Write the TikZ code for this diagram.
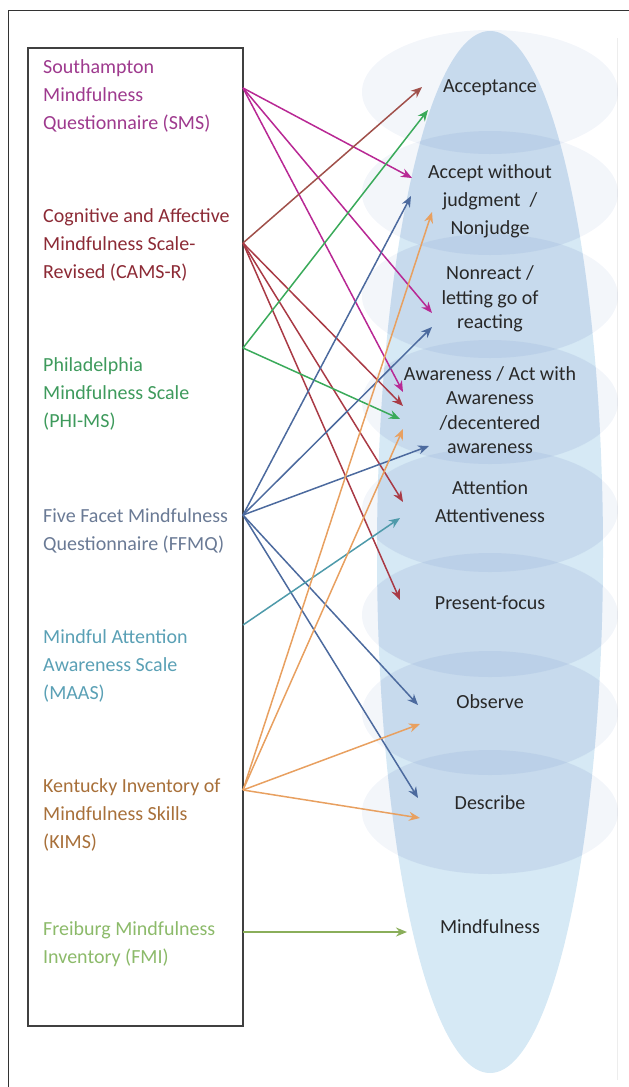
\documentclass[tikz,border=0pt]{standalone}
\usepackage{fontspec}
\setmainfont{Carlito}
\usetikzlibrary{arrows.meta}

\definecolor{smscol}{RGB}{158,58,142}
\definecolor{smsarr}{RGB}{184,40,148}
\definecolor{camscol}{RGB}{140,42,53}
\definecolor{camsarr}{RGB}{169,58,69}
\definecolor{camsup}{RGB}{160,80,74}
\definecolor{phicol}{RGB}{62,154,92}
\definecolor{phiarr}{RGB}{58,170,90}
\definecolor{ffmqcol}{RGB}{106,122,149}
\definecolor{ffmqarr}{RGB}{76,106,158}
\definecolor{maascol}{RGB}{90,160,181}
\definecolor{maasarr}{RGB}{78,154,170}
\definecolor{kimscol}{RGB}{168,112,58}
\definecolor{kimsarr}{RGB}{232,160,96}
\definecolor{fmicol}{RGB}{140,186,106}
\definecolor{fmiarr}{RGB}{138,174,90}
\definecolor{conefill}{RGB}{214,233,245}
\definecolor{bandfill}{RGB}{160,182,220}
\definecolor{facettext}{RGB}{40,40,40}

\begin{document}
\begin{tikzpicture}[x=1pt,y=-1pt,
  scale label/.style={anchor=west, align=left, inner sep=0pt,
    font=\fontsize{20}{28}\selectfont},
  facet/.style={align=center, inner sep=0pt, text=facettext,
    font=\fontsize{20}{28}\selectfont},
  facet tight/.style={facet, font=\fontsize{20}{24.5}\selectfont},
  link/.style={-{Stealth[length=11pt,width=9pt]}, line width=1.5pt}]
\useasboundingbox (0,0) rectangle (629,1087);

% frame and background shapes
\draw[line width=1pt, black!80] (8,1087) -- (8,10) -- (629,10);
\draw[black!7] (617,38) -- (617,1080);
\fill[conefill] (490,552) ellipse [x radius=113, y radius=521];
\foreach \y in {92,193,296,402,510,615,713,812}
  \fill[bandfill, opacity=0.13] (490,\y) ellipse [x radius=128, y radius=62];
\begin{scope}
  \clip (490,552) ellipse [x radius=113, y radius=521];
  \foreach \y in {92,193,296,402,510,615,713,812}
    \fill[bandfill, opacity=0.16] (490,\y) ellipse [x radius=128, y radius=62];
\end{scope}

% scales box
\node[draw=black!75, line width=1.4pt, minimum width=215pt, minimum height=978pt,
  inner sep=0pt] (box) at (135.5,537) {};

% scales
\node[scale label, text=smscol] (sms) at (43,96) {Southampton\\Mindfulness\\Questionnaire (SMS)};
\node[scale label, text=camscol] (cams) at (43,245) {Cognitive and Affective\\Mindfulness Scale-\\Revised (CAMS-R)};
\node[scale label, text=phicol] (phi) at (43,394) {Philadelphia\\Mindfulness Scale\\(PHI-MS)};
\node[scale label, text=ffmqcol] (ffmq) at (43,531) {Five Facet Mindfulness\\Questionnaire (FFMQ)};
\node[scale label, text=maascol] (maas) at (43,666) {Mindful Attention\\Awareness Scale\\(MAAS)};
\node[scale label, text=kimscol] (kims) at (43,815) {Kentucky Inventory of\\Mindfulness Skills\\(KIMS)};
\node[scale label, text=fmicol] (fmi) at (43,944) {Freiburg Mindfulness\\Inventory (FMI)};

% facets
\node[facet] (accept) at (490,88) {Acceptance};
\node[facet] (nonjudge) at (490,201) {Accept without\\judgment\ \ /\\Nonjudge};
\node[facet tight] (nonreact) at (490,299) {Nonreact /\\letting go of\\reacting};
\node[facet tight] (aware) at (490,410) {Awareness / Act with\\Awareness\\/decentered\\awareness};
\node[facet] (attend) at (490,502) {Attention\\Attentiveness};
\node[facet] (present) at (490,603) {Present-focus};
\node[facet] (observe) at (490,702) {Observe};
\node[facet] (describe) at (490,803) {Describe};
\node[facet] (mindful) at (490,927) {Mindfulness};

% connector ends
\foreach \n/\y in {sms/88, cams/243, phi/348, ffmq/515, maas/625, kims/790, fmi/932}
  \coordinate (\n-out) at (243,\y);
\foreach \n/\x/\y in {sms-nj/412/178, sms-nr/432/313, sms-aw/403/392,
    cams-ac/422/87, cams-aw/403/406, cams-at/403/502, cams-pf/400/600,
    phi-ac/428/110, phi-aw/400/419,
    ffmq-nj/411/196, ffmq-nr/432/327, ffmq-aw/429/446, ffmq-ob/418/705, ffmq-de/418/798,
    maas-at/400/518,
    kims-nj/432/212, kims-aw/403/429, kims-ob/420/724, kims-de/420/818,
    fmi-mf/407/932}
  \coordinate (\n) at (\x,\y);

% links
\foreach \t in {sms-nj, sms-nr, sms-aw}
  \draw[link, smsarr] (sms-out) -- (\t);
\draw[link, camsup] (cams-out) -- (cams-ac);
\foreach \t in {cams-aw, cams-at, cams-pf}
  \draw[link, camsarr] (cams-out) -- (\t);
\foreach \t in {phi-ac, phi-aw}
  \draw[link, phiarr] (phi-out) -- (\t);
\foreach \t in {ffmq-nj, ffmq-nr, ffmq-aw, ffmq-ob, ffmq-de}
  \draw[link, ffmqarr] (ffmq-out) -- (\t);
\draw[link, maasarr] (maas-out) -- (maas-at);
\foreach \t in {kims-nj, kims-aw, kims-ob, kims-de}
  \draw[link, kimsarr] (kims-out) -- (\t);
\draw[link, fmiarr] (fmi-out) -- (fmi-mf);
\end{tikzpicture}
\end{document}
